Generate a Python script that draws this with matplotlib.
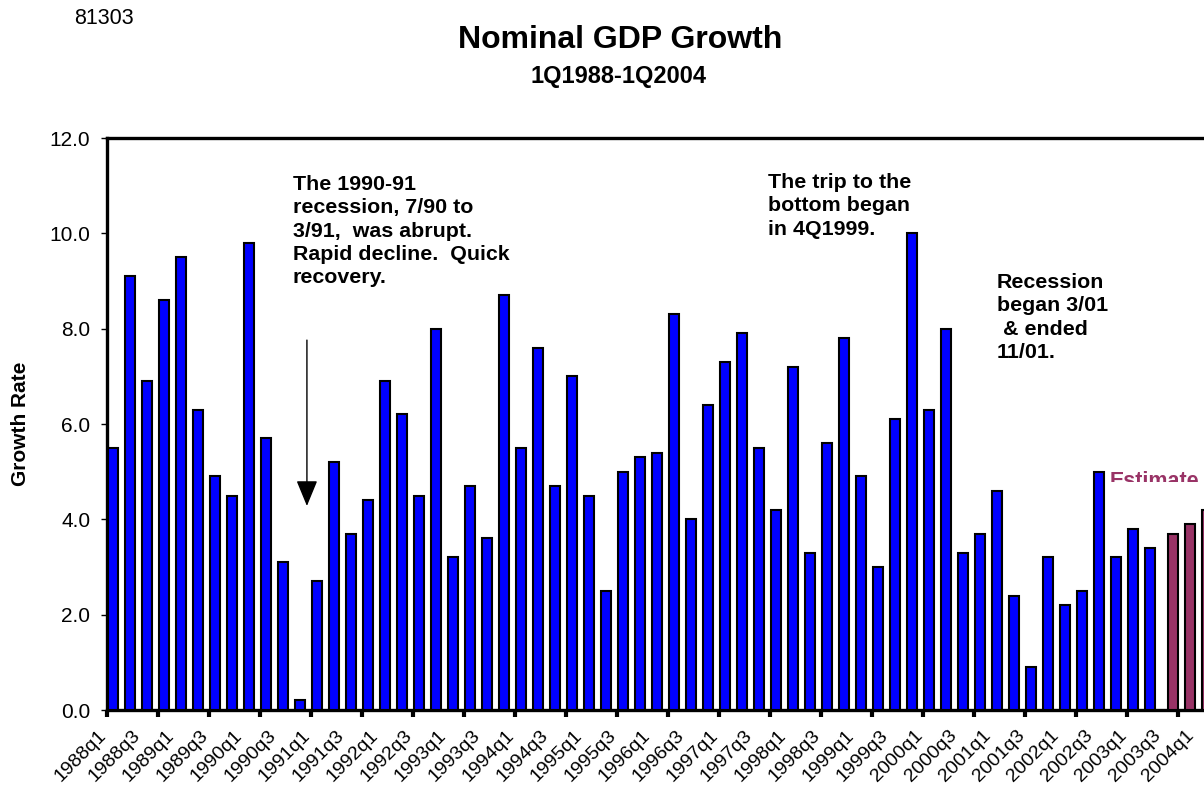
import matplotlib
matplotlib.use("Agg")
import matplotlib.pyplot as plt
from matplotlib.transforms import Bbox, ScaledTranslation
import numpy as np

plt.rcParams['font.family'] = ['Liberation Sans', 'DejaVu Sans']

# ---- data ----
quarters = [f"{y}q{q}" for y in range(1988, 2005) for q in range(1, 5)][:65]  # 1988q1 .. 2004q1
actual = [5.5, 9.1, 6.9, 8.6, 9.5, 6.3, 4.9, 4.5, 9.8, 5.7, 3.1, 0.2,
          2.7, 5.2, 3.7, 4.4, 6.9, 6.2, 4.5, 8.0, 3.2, 4.7, 3.6, 8.7,
          5.5, 7.6, 4.7, 7.0, 4.5, 2.5, 5.0, 5.3, 5.4, 8.3, 4.0, 6.4,
          7.3, 7.9, 5.5, 4.2, 7.2, 3.3, 5.6, 7.8, 4.9, 3.0, 6.1, 10.0,
          6.3, 8.0, 3.3, 3.7, 4.6, 2.4, 0.9, 3.2, 2.2, 2.5, 5.0, 3.2,
          3.8, 3.4]                      # 1988q1 .. 2003q2
estimate = [3.7, 3.9, 4.2]               # 2003q3 .. 2004q1
yticks = [0, 2, 4, 6, 8, 10, 12]

W, H = 1204, 796
fig = plt.figure(figsize=(W / 100, H / 100), dpi=100)
fig.patch.set_facecolor('white')

# axes: left 107px, right beyond the picture edge, baseline at y=710, top at y=138
ax = fig.add_axes([107 / W, (H - 710) / H, 1105 / W, 572 / H])
ax.set_facecolor('white')

n = len(quarters)
xa = np.arange(len(actual))
xe = np.arange(len(actual), len(actual) + len(estimate))
ax.bar(xa + 0.33, actual, width=0.60, color='#0000FF', edgecolor='black',
       linewidth=1.5, zorder=3)
ax.bar(xe + 0.70, estimate, width=0.60, color='#993366', edgecolor='black',
       linewidth=1.5, zorder=3)

ax.set_xlim(0, n)
ax.set_ylim(0, 12)

for s in ['left', 'bottom', 'top']:
    ax.spines[s].set_linewidth(2.4)
    ax.spines[s].set_color('black')
ax.spines['right'].set_visible(False)

ax.set_yticks(yticks)
ax.set_yticklabels([f"{v:.1f}" for v in yticks], fontsize=15)
ax.tick_params(axis='y', direction='out', length=4, width=1, pad=8, colors='black')

# tick marks every 3 categories, labels every 2 categories
ax.set_xticks(np.arange(0, n + 1, 3))
ax.set_xticklabels([])
ax.tick_params(axis='x', which='major', direction='out', length=5, width=3)
ax.set_xticks(np.arange(0, n, 2) + 0.5, minor=True)
ax.set_xticklabels(quarters[::2], minor=True, rotation=45, ha='right', va='top',
                   rotation_mode='anchor', fontsize=14)
ax.tick_params(axis='x', which='minor', length=0, pad=12)
shift = ScaledTranslation(-12.8 / 72, 0, fig.dpi_scale_trans)
for lab in ax.get_xticklabels(minor=True):
    lab.set_transform(lab.get_transform() + shift)

ax.set_ylabel('Growth Rate', fontsize=15, fontweight='bold', labelpad=14)

# titles
fig.text(620 / W, 1 - 40 / H, 'Nominal GDP Growth', ha='center', va='center',
         fontsize=23, fontweight='bold')
fig.text(618 / W, 1 - 76 / H, '1Q1988-1Q2004', ha='center', va='center',
         fontsize=17, fontweight='bold')
fig.text(74 / W, 1 - 19 / H, '81303', ha='left', va='center', fontsize=15.5)

# annotations
ann_kw = dict(ha='left', va='top', fontsize=15.4, fontweight='bold', linespacing=1.29)
fig.text(293 / W, 1 - 175 / H,
         'The 1990-91\nrecession, 7/90 to\n3/91,  was abrupt.\nRapid decline.  Quick\nrecovery.',
         **ann_kw)
fig.text(768 / W, 1 - 173 / H, 'The trip to the\nbottom began\nin 4Q1999.', **ann_kw)
fig.text(997 / W, 1 - 273 / H, 'Recession\nbegan 3/01\n & ended\n11/01.', **ann_kw)

# arrow
ax.annotate('', xy=(11.76, 4.28), xytext=(11.76, 7.76),
            arrowprops=dict(arrowstyle='-|>,head_length=0.8,head_width=0.33',
                            color='black', lw=1.0, mutation_scale=20,
                            shrinkA=0, shrinkB=0), zorder=5)

# clipped "Estimate" label
t = fig.text(1110 / W, 1 - 471 / H, 'Estimate', ha='left', va='top',
             fontsize=15.5, fontweight='bold', color='#993366')
t.set_clip_box(Bbox.from_extents(1100, H - 482, W, H - 455))
t.set_clip_on(True)

fig.savefig('out.png', dpi=100, facecolor='white')
